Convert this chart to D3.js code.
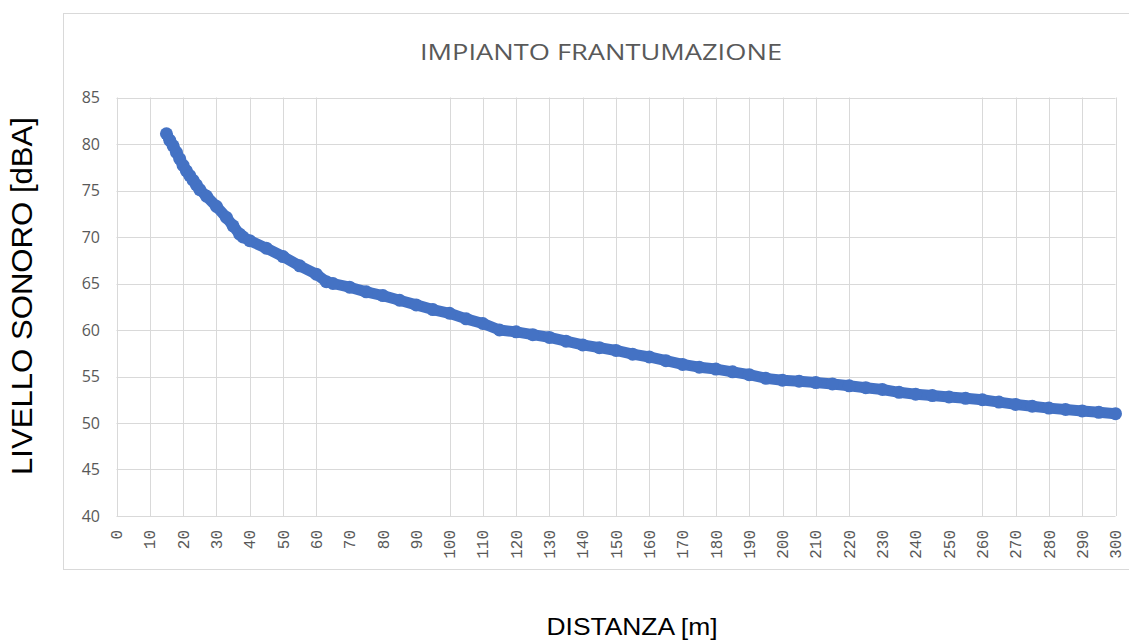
<!DOCTYPE html>
<meta charset="utf-8">
<title>Impianto frantumazione</title>
<style>
  body { margin: 0; background: #fff; }
  .grid line { stroke: #d9d9d9; stroke-width: 1px; }
  .tick-y { font-family: "Open Sans", sans-serif; font-size: 16px; fill: #595959; }
  .tick-x { font-family: "Liberation Mono", monospace; font-size: 16px; fill: #595959; }
  .axis-title { font-family: "Liberation Sans Narrow", "Liberation Sans", sans-serif; fill: #000; }
</style>

<body>
  <svg width="1129" height="642"></svg>
</body>

<script src="https://d3js.org/d3.v7.min.js"></script>
<script>
  // distance [m] and sound level [dBA]
  var distanze = [15, 16, 17, 18, 19, 20, 21, 22, 23, 24, 25, 27, 30, 33, 35, 37, 38, 40, 45, 50,
    55, 60, 63, 65, 70, 75, 80, 85, 90, 95, 100, 105, 110, 115, 120, 125, 130, 135, 140, 145,
    150, 155, 160, 165, 170, 175, 180, 185, 190, 195, 200, 205, 210, 215, 220, 225, 230, 235,
    240, 245, 250, 255, 260, 265, 270, 275, 280, 285, 290, 295, 300];
  var livelli = [81.1, 80.4, 79.8, 79.1, 78.4, 77.7, 77.1, 76.6, 76.1, 75.6, 75.1, 74.4, 73.3, 72.1, 71.2, 70.3, 70.0, 69.6, 68.8, 67.9,
    66.9, 66.0, 65.2, 65.0, 64.6, 64.1, 63.7, 63.2, 62.7, 62.2, 61.8, 61.2, 60.7, 60.0, 59.8, 59.5, 59.2, 58.8, 58.4, 58.1,
    57.8, 57.4, 57.1, 56.7, 56.3, 56.0, 55.8, 55.5, 55.2, 54.8, 54.6, 54.5, 54.35, 54.2, 54.0, 53.8, 53.6, 53.3,
    53.1, 52.95, 52.8, 52.65, 52.5, 52.25, 52.0, 51.8, 51.6, 51.45, 51.3, 51.15, 51.0];

  var xTicks = d3.range(0, 301, 10);
  var yTicks = [40, 45, 50, 55, 60, 65, 70, 75, 80, 85];
  // vertical gridlines actually drawn in the original (a few are missing)
  var xGrid = xTicks.filter(function (d) { return [70, 80, 90, 230, 240, 250].indexOf(d) < 0; });

  var title = "IMPIANTO FRANTUMAZIONE";
  var yTitle = "LIVELLO SONORO [dBA]";
  var xTitle = "DISTANZA [m]";

  var svg = d3.select("svg");

  var x = d3.scaleLinear().domain([0, 300]).range([116.5, 1115.5]);
  var y = d3.scaleLinear().domain([40, 85]).range([516, 97.5]);

  // chart border
  svg.append("rect")
    .attr("x", 63.5).attr("y", 13.5)
    .attr("width", 1100).attr("height", 556)
    .attr("fill", "#fff")
    .attr("stroke", "#d9d9d9");

  svg.append("text")
    .attr("x", 601).attr("y", 60)
    .attr("text-anchor", "middle")
    .attr("textLength", 362)
    .attr("lengthAdjust", "spacingAndGlyphs")
    .style("font-family", "'Open Sans', sans-serif")
    .style("font-size", "21px")
    .style("fill", "#595959")
    .text(title);

  var grid = svg.append("g").attr("class", "grid");

  grid.selectAll(".h")
    .data(yTicks)
    .enter().append("line")
    .attr("x1", x(0)).attr("x2", x(300))
    .attr("y1", function (d) { return Math.round(y(d)) + 0.5; })
    .attr("y2", function (d) { return Math.round(y(d)) + 0.5; });

  grid.selectAll(".v")
    .data(xGrid)
    .enter().append("line")
    .attr("x1", function (d) { return Math.round(x(d)) + 0.5; })
    .attr("x2", function (d) { return Math.round(x(d)) + 0.5; })
    .attr("y1", y(85)).attr("y2", y(40));

  // y tick labels
  svg.selectAll(".tick-y")
    .data(yTicks)
    .enter().append("text")
    .attr("class", "tick-y")
    .attr("x", 100)
    .attr("y", function (d) { return y(d); })
    .attr("dy", "0.35em")
    .attr("text-anchor", "end")
    .text(function (d) { return d; });

  // x tick labels, rotated
  svg.selectAll(".tick-x")
    .data(xTicks)
    .enter().append("text")
    .attr("class", "tick-x")
    .attr("transform", function (d) { return "translate(" + x(d) + ",530) rotate(-90)"; })
    .attr("dy", "0.35em")
    .attr("text-anchor", "end")
    .text(function (d) { return d; });

  // series
  var punti = distanze.map(function (d, i) { return [d, livelli[i]]; });

  var line = d3.line()
    .x(function (d) { return x(d[0]); })
    .y(function (d) { return y(d[1]); });

  svg.append("path")
    .datum(punti)
    .attr("d", line)
    .attr("fill", "none")
    .attr("stroke", "#4472c4")
    .attr("stroke-width", 11)
    .attr("stroke-linejoin", "round");

  svg.selectAll(".pt")
    .data(punti)
    .enter().append("circle")
    .attr("cx", function (d) { return x(d[0]); })
    .attr("cy", function (d) { return y(d[1]); })
    .attr("r", 6.5)
    .attr("fill", "#4472c4");

  // axis titles
  svg.append("text")
    .attr("class", "axis-title")
    .attr("transform", "translate(32,296) rotate(-90)")
    .attr("text-anchor", "middle")
    .attr("textLength", 358)
    .attr("lengthAdjust", "spacingAndGlyphs")
    .style("font-size", "30px")
    .text(yTitle);

  svg.append("text")
    .attr("class", "axis-title")
    .attr("x", 632).attr("y", 635)
    .attr("text-anchor", "middle")
    .attr("textLength", 171)
    .attr("lengthAdjust", "spacingAndGlyphs")
    .style("font-size", "24px")
    .text(xTitle);
</script>
